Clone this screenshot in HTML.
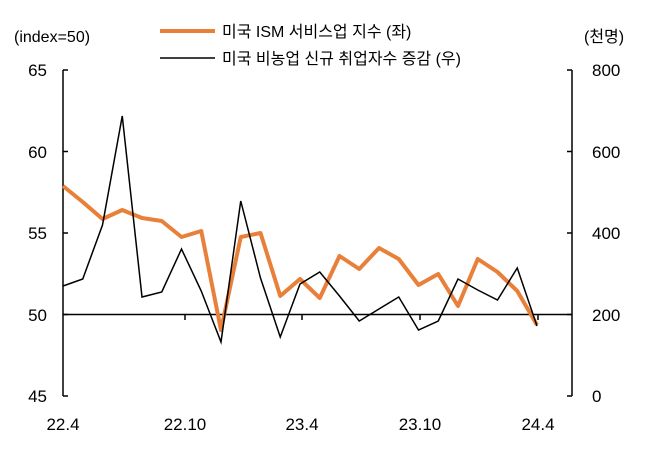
<!DOCTYPE html>
<html><head><meta charset="utf-8"><style>
body{margin:0;background:#fff;}
svg text{font-family:"Liberation Sans","Noto Sans CJK KR",sans-serif;fill:#000;}
</style></head><body>
<svg width="646" height="448" xmlns="http://www.w3.org/2000/svg">
<rect width="646" height="448" fill="#fff"/>
<line x1="160" y1="31" x2="215" y2="31" stroke="#E8803A" stroke-width="4"/>
<text x="222" y="37" font-size="16">미국 ISM 서비스업 지수 (좌)</text>
<line x1="160" y1="58" x2="215" y2="58" stroke="#000" stroke-width="1.5"/>
<text x="222" y="64" font-size="16">미국 비농업 신규 취업자수 증감 (우)</text>
<text x="14" y="42" font-size="16">(index=50)</text>
<text x="584" y="42" font-size="16">(천명)</text>
<line x1="63" y1="70" x2="63" y2="396" stroke="#000" stroke-width="1.5"/>
<line x1="572" y1="70" x2="572" y2="396" stroke="#000" stroke-width="1.5"/>
<g stroke="#000" stroke-width="1.5">
<line x1="63" y1="70" x2="68" y2="70"/><line x1="63" y1="151.5" x2="68" y2="151.5"/><line x1="63" y1="233" x2="68" y2="233"/><line x1="63" y1="314.5" x2="68" y2="314.5"/><line x1="63" y1="396" x2="68" y2="396"/>
<line x1="567" y1="70" x2="572" y2="70"/><line x1="567" y1="151.5" x2="572" y2="151.5"/><line x1="567" y1="233" x2="572" y2="233"/><line x1="567" y1="314.5" x2="572" y2="314.5"/><line x1="567" y1="396" x2="572" y2="396"/>
<line x1="63" y1="314.5" x2="572" y2="314.5"/>
<line x1="185" y1="314.5" x2="185" y2="320"/><line x1="302" y1="314.5" x2="302" y2="320"/><line x1="420" y1="314.5" x2="420" y2="320"/><line x1="538" y1="314.5" x2="538" y2="320"/>
</g>
<g font-size="17" text-anchor="end">
<text x="47" y="76">65</text><text x="47" y="158">60</text><text x="47" y="239">55</text><text x="47" y="321">50</text><text x="47" y="402">45</text>
</g>
<g font-size="17" text-anchor="start">
<text x="592" y="76">800</text><text x="592" y="158">600</text><text x="592" y="239">400</text><text x="592" y="321">200</text><text x="592" y="402">0</text>
</g>
<g font-size="17" text-anchor="middle">
<text x="63" y="430">22.4</text><text x="185" y="430">22.10</text><text x="302" y="430">23.4</text><text x="420" y="430">23.10</text><text x="538" y="430">24.4</text>
</g>
<polyline fill="none" stroke="#E8803A" stroke-width="4" stroke-linejoin="round" points="63,186 82.75,202 102.5,219 122.25,210 142,218 161.75,221 181.5,237 201.25,231 221,330 240.75,237 260.5,233 280.25,296 300,279 319.75,298 339.5,256 359.25,269 379,248 398.75,259 418.5,285 438.25,274 458,306 477.75,259 497.5,272 517.25,291 537,325"/>
<polyline fill="none" stroke="#000" stroke-width="1.5" points="63,286 82.75,279 102.5,225 122.25,116 142,297 161.75,292 181.5,249 201.25,291 221,342 240.75,201 260.5,278 280.25,337 300,284 319.75,272 339.5,296 359.25,321 379,309 398.75,297 418.5,330 438.25,321 458,279 477.75,290 497.5,300 517.25,268 537,326"/>
</svg>
</body></html>
